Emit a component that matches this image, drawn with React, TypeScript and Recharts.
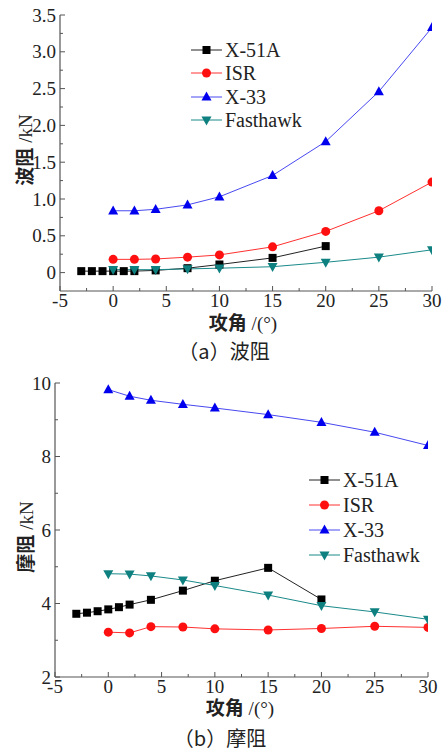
import { Legend, Line, LineChart, XAxis, YAxis } from "recharts";

const SERIF = '"Liberation Serif", "Times New Roman", serif';
const CJK = '"Noto Sans CJK SC", sans-serif';

// angles of attack (deg)
const anglesX51A = [-3, -2, -1, 0, 1, 2, 4, 7, 10, 15, 20];
const anglesMain = [0, 2, 4, 7, 10, 15, 20, 25, 30];

// (a) wave drag, kN
const waveX51A = [0.02, 0.02, 0.02, 0.02, 0.02, 0.02, 0.03, 0.06, 0.11, 0.2, 0.36];
const waveISR = [0.18, 0.18, 0.185, 0.21, 0.24, 0.35, 0.56, 0.84, 1.23];
const waveX33 = [0.84, 0.84, 0.86, 0.92, 1.03, 1.32, 1.78, 2.46, 3.33];
const waveFasthawk = [0.04, 0.04, 0.04, 0.05, 0.06, 0.08, 0.14, 0.21, 0.31];

// (b) friction drag, kN
const fricX51A = [3.72, 3.75, 3.79, 3.84, 3.9, 3.97, 4.1, 4.35, 4.62, 4.97, 4.11];
const fricISR = [3.22, 3.2, 3.37, 3.36, 3.31, 3.28, 3.32, 3.38, 3.35];
const fricX33 = [9.82, 9.64, 9.53, 9.42, 9.32, 9.14, 8.93, 8.66, 8.3];
const fricFasthawk = [4.81, 4.8, 4.75, 4.64, 4.49, 4.23, 3.94, 3.77, 3.57];

const xTicks = [-5, -2.5, 0, 2.5, 5, 7.5, 10, 12.5, 15, 17.5, 20, 22.5, 25, 27.5, 30];
const waveTicks = [0, 0.25, 0.5, 0.75, 1, 1.25, 1.5, 1.75, 2, 2.25, 2.5, 2.75, 3, 3.25, 3.5];
const fricTicks = [2, 3, 4, 5, 6, 7, 8, 9, 10];

const SERIES = [
  { name: "X-51A", shape: "square", line: "#222222", fill: "#000000" },
  { name: "ISR", shape: "circle", line: "#ff3030", fill: "#ff1010" },
  { name: "X-33", shape: "up", line: "#4848f0", fill: "#0000ee" },
  { name: "Fasthawk", shape: "down", line: "#1b8a8a", fill: "#0f8080" },
];

const toPoints = (xs: number[], ys: number[]) => xs.map((x, i) => ({ x, y: ys[i] }));

function Marker({ cx, cy, shape, fill, size = 9 }: any) {
  if (cx == null || cy == null) return null;
  const h = size / 2;
  if (shape === "square") return <rect x={cx - h + 0.5} y={cy - h + 0.5} width={size - 1} height={size - 1} fill={fill} />;
  if (shape === "circle") return <circle cx={cx} cy={cy} r={h} fill={fill} />;
  if (shape === "up")
    return <polygon points={`${cx},${cy - size * 0.6} ${cx - h - 0.5},${cy + size * 0.4} ${cx + h + 0.5},${cy + size * 0.4}`} fill={fill} />;
  return <polygon points={`${cx},${cy + size * 0.6} ${cx - h - 0.5},${cy - size * 0.4} ${cx + h + 0.5},${cy - size * 0.4}`} fill={fill} />;
}

function XTick({ x, y, payload }: any) {
  const v = payload.value;
  const major = v % 5 === 0;
  return (
    <g>
      <line x1={x} x2={x} y1={y} y2={y - (major ? 5 : 3)} stroke="#555" strokeWidth={1} />
      {major && (
        <text x={x} y={y + 16} textAnchor="middle" fontFamily={SERIF} fontSize={19} fill="#222">
          {v}
        </text>
      )}
    </g>
  );
}

function makeYTick(isMajor: (v: number) => boolean, fmt: (v: number) => string) {
  return function YTick({ x, y, payload }: any) {
    const v = payload.value;
    const major = isMajor(v);
    return (
      <g>
        <line x1={x} x2={x + (major ? 5 : 3)} y1={y} y2={y} stroke="#555" strokeWidth={1} />
        {major && (
          <text x={x - 4} y={y} dy="0.35em" textAnchor="end" fontFamily={SERIF} fontSize={19} fill="#222">
            {fmt(v)}
          </text>
        )}
      </g>
    );
  };
}

const WaveYTick = makeYTick(
  (v) => Math.abs(v * 2 - Math.round(v * 2)) < 1e-6,
  (v) => (v === 0 ? "0" : v.toFixed(1))
);
const FricYTick = makeYTick((v) => v % 2 === 0, (v) => String(v));

function LegendBox({ rowHeight, lineWidth }: { rowHeight: number; lineWidth: number }) {
  return (
    <div>
      {SERIES.map((s) => (
        <div key={s.name} style={{ display: "flex", alignItems: "center", height: rowHeight }}>
          <svg width={lineWidth} height={14} style={{ display: "block" }}>
            <line x1={0} x2={lineWidth} y1={7} y2={7} stroke={s.line} strokeWidth={1} />
            <Marker cx={lineWidth / 2} cy={7} shape={s.shape} fill={s.fill} size={9} />
          </svg>
          <span style={{ fontFamily: SERIF, fontSize: 20, color: "#222", marginLeft: 3, lineHeight: 1 }}>{s.name}</span>
        </div>
      ))}
    </div>
  );
}

function DragChart({ data, yDomain, yTicks, YTick, height, margin, yWidth, plotHeight, legendPos, legendRow }: any) {
  return (
    <LineChart width={446} height={height} margin={margin}>
      <XAxis
        type="number"
        dataKey="x"
        domain={[-5, 30]}
        ticks={xTicks}
        interval={0}
        tickSize={0}
        tickMargin={0}
        tickLine={false}
        tick={<XTick />}
        axisLine={{ stroke: "#555", strokeWidth: 1.2 }}
        allowDataOverflow
        height={height - margin.top - margin.bottom - plotHeight}
      />
      <YAxis
        type="number"
        dataKey="y"
        domain={yDomain}
        ticks={yTicks}
        interval={0}
        width={yWidth}
        tickSize={0}
        tickMargin={0}
        tickLine={false}
        tick={<YTick />}
        axisLine={{ stroke: "#555", strokeWidth: 1.2 }}
        allowDataOverflow
      />
      <Legend
        layout="horizontal"
        verticalAlign="middle"
        content={() => <LegendBox rowHeight={legendRow} lineWidth={31} />}
        wrapperStyle={{ position: "absolute", left: legendPos.left, top: legendPos.top, width: 160 }}
      />
      {SERIES.map((s, i) => (
        <Line
          key={s.name}
          name={s.name}
          data={data[i]}
          dataKey="y"
          type="linear"
          stroke={s.line}
          strokeWidth={1}
          isAnimationActive={false}
          dot={(p: any) => <Marker key={`${s.name}-${p.index}`} cx={p.cx} cy={p.cy} shape={s.shape} fill={s.fill} size={9} />}
          activeDot={false}
        />
      ))}
    </LineChart>
  );
}

const abs = (left: number, top: number, extra: any = {}) => ({
  position: "absolute" as const,
  left,
  top,
  transform: "translate(-50%, -50%)",
  whiteSpace: "nowrap" as const,
  lineHeight: 1,
  color: "#222",
  ...extra,
});

function AxisTitle({ cn }: { cn: string }) {
  return (
    <>
      <span style={{ fontFamily: CJK, fontWeight: 700 }}>{cn}</span>
      <span style={{ fontFamily: SERIF }}>{"  /(°)"}</span>
    </>
  );
}

function YTitle({ cn }: { cn: string }) {
  return (
    <>
      <span style={{ fontFamily: CJK, fontWeight: 700 }}>{cn}</span>
      <span style={{ fontFamily: SERIF }}>{"  /kN"}</span>
    </>
  );
}

export default function App() {
  const waveData = [
    toPoints(anglesX51A, waveX51A),
    toPoints(anglesMain, waveISR),
    toPoints(anglesMain, waveX33),
    toPoints(anglesMain, waveFasthawk),
  ];
  const fricData = [
    toPoints(anglesX51A, fricX51A),
    toPoints(anglesMain, fricISR),
    toPoints(anglesMain, fricX33),
    toPoints(anglesMain, fricFasthawk),
  ];

  return (
    <div style={{ position: "absolute", left: 0, top: 0, width: 446, height: 752, background: "#fff", overflow: "hidden" }}>
      <div style={{ position: "absolute", left: 0, top: 0 }}>
        <DragChart
          data={waveData}
          yDomain={[-0.25, 3.5]}
          yTicks={waveTicks}
          YTick={WaveYTick}
          height={360}
          margin={{ top: 15, right: 14, bottom: 0, left: 0 }}
          yWidth={60}
          plotHeight={276}
          legendPos={{ left: 191, top: 38 }}
          legendRow={23.5}
        />
      </div>
      <div style={{ position: "absolute", left: 0, top: 360 }}>
        <DragChart
          data={fricData}
          yDomain={[2, 10]}
          yTicks={fricTicks}
          YTick={FricYTick}
          height={392}
          margin={{ top: 23, right: 18, bottom: 0, left: 0 }}
          yWidth={55}
          plotHeight={294}
          legendPos={{ left: 309, top: 107.5 }}
          legendRow={25}
        />
      </div>

      <div style={abs(24, 150, { transform: "translate(-50%, -50%) rotate(-90deg)", fontSize: 19 })}>
        <YTitle cn="波阻" />
      </div>
      <div style={abs(243, 322, { fontSize: 19 })}>
        <AxisTitle cn="攻角" />
      </div>
      <div style={abs(224, 351, { fontFamily: CJK, fontSize: 20 })}>（a）波阻</div>

      <div style={abs(25, 537, { transform: "translate(-50%, -50%) rotate(-90deg)", fontSize: 19 })}>
        <YTitle cn="摩阻" />
      </div>
      <div style={abs(240, 707, { fontSize: 19 })}>
        <AxisTitle cn="攻角" />
      </div>
      <div style={abs(220, 738, { fontFamily: CJK, fontSize: 20 })}>（b）摩阻</div>
    </div>
  );
}
